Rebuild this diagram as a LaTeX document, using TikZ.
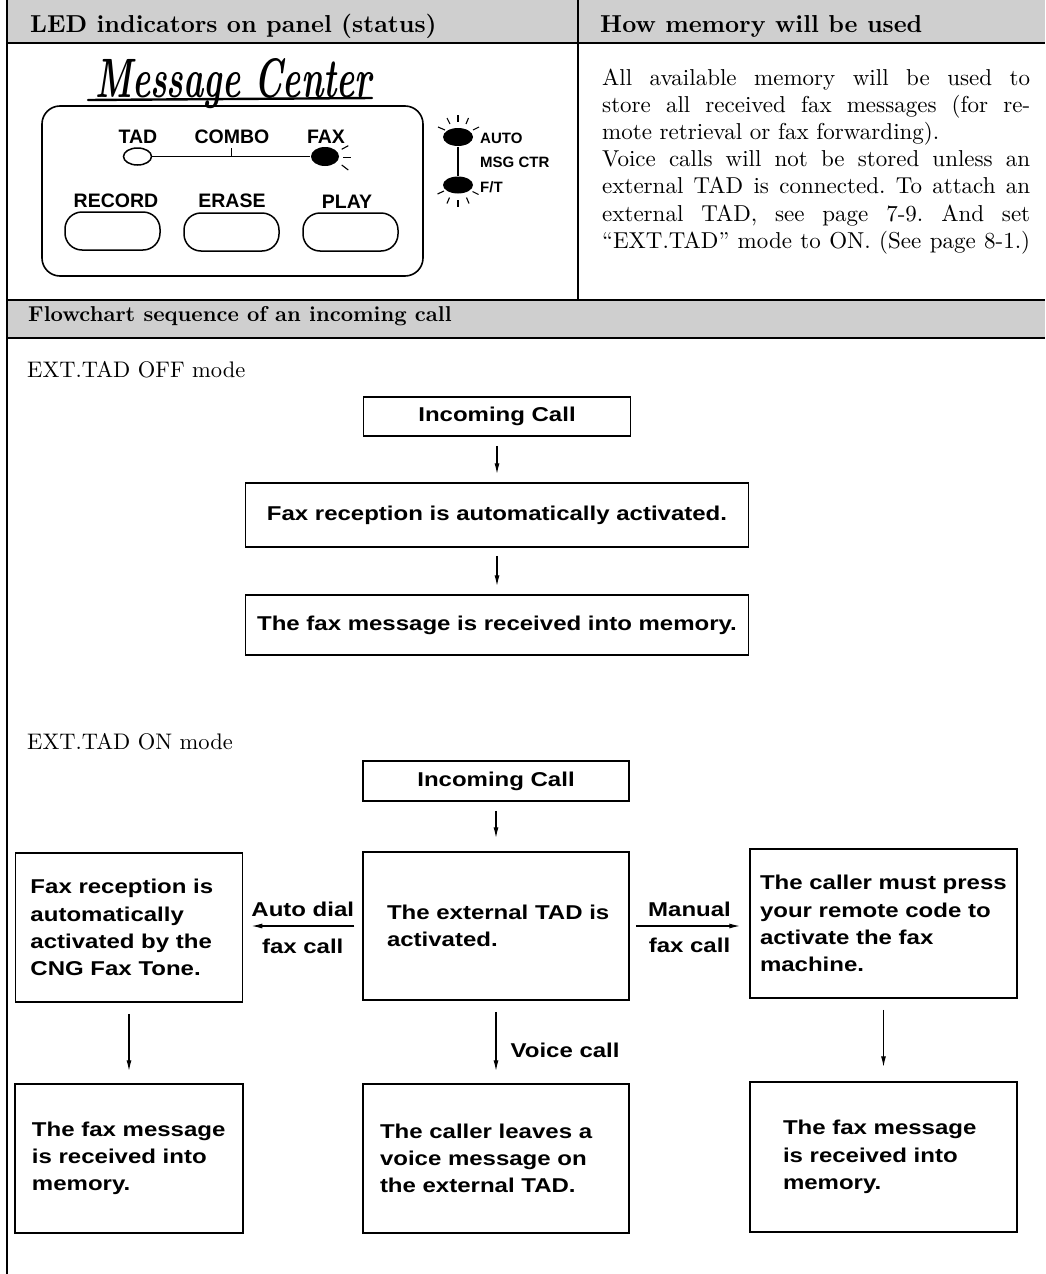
\documentclass[tikz,border=0pt]{standalone}
\usepackage{fontspec}
\usepackage{graphicx}
\usetikzlibrary{shapes.geometric,arrows.meta,calc}
\setmainfont{lmroman10}[Extension=.otf, UprightFont=*-regular, BoldFont=*-bold, ItalicFont=*-italic, BoldItalicFont=*-bolditalic]
\newfontfamily\hvflow[FakeStretch=1.2]{Liberation Sans}
\newfontfamily\hvpanel{Liberation Sans}
\begin{document}
\frenchspacing
\begin{tikzpicture}[x=1pt,y=-1pt,
  hdr/.style={anchor=base west, inner sep=0pt, font=\fontsize{24.5}{27}\selectfont\bfseries},
  modelbl/.style={anchor=base west, inner sep=0pt, font=\fontsize{22.5}{27}\selectfont},
  bar/.style={fill=black!19, draw=none},
  rule/.style={line width=1.3pt},
  plbl/.style={anchor=base, inner sep=0pt, font=\hvpanel\bfseries\fontsize{19.5}{22}\selectfont},
  slbl/.style={anchor=base west, inner sep=0pt, font=\hvpanel\bfseries\fontsize{15}{18}\selectfont},
  led/.style={ellipse, inner sep=0pt, line width=1.5pt},
  btn/.style={draw, line width=1.5pt, rounded corners=17pt, minimum width=95pt, minimum height=38pt, inner sep=0pt},
  ray/.style={line width=1.1pt},
  fbox/.style={draw, line width=1.5pt, inner sep=0pt, font=\hvflow\bfseries\fontsize{20}{27.3}\selectfont},
  tbox/.style={fbox, align=left},
  arr/.style={line width=1.3pt, -{Latex[length=11pt,width=5pt]}},
  lbl/.style={inner sep=0pt, font=\hvflow\bfseries\fontsize{20}{24}\selectfont},
]
\useasboundingbox (0,0) rectangle (1045,1274);
\fill[white] (0,0) rectangle (1045,1274);

% ---- header bars and rules ----
\fill[bar] (7,0) rectangle (1045,43);
\fill[bar] (7,300) rectangle (1045,338);
\draw[rule] (7,43) -- (1045,43);
\draw[rule] (7,300) -- (1045,300);
\draw[rule] (7,338) -- (1045,338);
\draw[rule] (7,0) -- (7,1274);
\draw[rule] (578,0) -- (578,300);

\node[hdr] (h1) at (30,32) {LED indicators on panel (status)};
\node[hdr] (h2) at (600,32) {How memory will be used};
\node[hdr, font=\fontsize{21.5}{27}\selectfont\bfseries] (h3) at (28,321) {Flowchart sequence of an incoming call};

% ---- memory text ----
\node[anchor=base west, inner sep=0pt, font=\fontsize{23}{27.2}\selectfont] (memtxt) at (602,85)
 {\parbox[t]{428pt}{%
  \makebox[428pt][s]{All available memory will be used to}\\
  \makebox[428pt][s]{store all received fax messages (for re-}\\
  \makebox[428pt][l]{mote retrieval or fax forwarding).}\\
  \makebox[428pt][s]{Voice calls will not be stored unless an}\\
  \makebox[428pt][s]{external TAD is connected. To attach an}\\
  \makebox[428pt][s]{external TAD, see page 7-9. And set}\\
  \makebox[428pt][s]{“EXT.TAD” mode to ON. (See page 8-1.)}}};

% ---- Message Center panel ----
\node[anchor=base west, inner sep=0pt] (mc) at (95,97)
  {\resizebox{277pt}{39pt}{\fontsize{40}{40}\selectfont\bfseries\itshape Message Center}};
\draw[line width=2.4pt, line cap=round] (88,100) -- (372,98);
\node[draw, line width=1.6pt, rounded corners=18pt, minimum width=381pt, minimum height=170pt, inner sep=0pt] (panel) at (232.5,191) {};

\node[plbl] (ltad) at (138,143) {TAD};
\node[plbl] (lcombo) at (232,143) {COMBO};
\node[plbl] (lfax) at (326,143) {FAX};
\node[led, draw, minimum width=28pt, minimum height=17pt] (tadled) at (137.5,156.5) {};
\node[led, fill, minimum width=28pt, minimum height=19pt] (faxled) at (325,156.5) {};
\draw[line width=1.1pt] (tadled) -- (faxled);
\draw[line width=1.1pt] ($(tadled)!0.5!(faxled)$) -- ++(0,-8.5);
\draw[ray] (341.7,149.3) -- (348.3,145.7);
\draw[ray] (343.3,157.7) -- (350.7,157.7);
\draw[ray] (341.7,165) -- (348.3,170);

\node[plbl] (lrec) at (116,207) {RECORD};
\node[plbl] (lera) at (232,207) {ERASE};
\node[plbl] (lplay) at (347,208) {PLAY};
\node[btn] (brec) at (112.5,231) {};
\node[btn] (bera) at (231.5,232) {};
\node[btn] (bplay) at (350.5,232) {};

% ---- AUTO / F/T ----
\node[led, fill, minimum width=30pt, minimum height=18pt] (autoled) at (458,137) {};
\node[led, fill, minimum width=30pt, minimum height=17pt] (ftled) at (458,185) {};
\node[slbl] (lauto) at (480,143) {AUTO};
\node[slbl] (lmsg) at (480,167) {MSG CTR};
\node[slbl] (lft) at (480,192) {F/T};
\draw[line width=1.1pt] (autoled) -- (ftled);
\draw[line width=1.1pt, shorten >=2pt] ($(autoled)!0.5!(ftled)$) -- ($(autoled)!0.5!(ftled)$ -| lmsg.west);
\draw[ray] (438,127) -- (445,130);
\draw[ray] (447,118) -- (450,124);
\draw[ray] (458,115) -- (458,121.5);
\draw[ray] (468.5,118) -- (466,124);
\draw[ray] (479,127) -- (473,130);
\draw[ray] (437.5,194) -- (444,191);
\draw[ray] (447,203.5) -- (449.5,197.5);
\draw[ray] (458,206.5) -- (458,200);
\draw[ray] (469,203.5) -- (466.5,197.5);
\draw[ray] (478.5,194.5) -- (472.5,191.5);

% ---- EXT.TAD OFF mode ----
\node[modelbl] (offlbl) at (27,377) {EXT.TAD OFF mode};
\node[fbox, minimum width=267pt, minimum height=39pt] (in1) at (497,416.5) {Incoming Call};
\node[fbox, minimum width=503pt, minimum height=64pt] (fr) at (497,515) {Fax reception is automatically activated.};
\node[fbox, minimum width=503pt, minimum height=60pt] (fm) at (497,625) {The fax message is received into memory.};
\draw[arr, shorten <=9pt, shorten >=8pt] (in1) -- (fr);
\draw[arr, shorten <=8pt, shorten >=8pt] (fr) -- (fm);

% ---- EXT.TAD ON mode ----
\node[modelbl] (onlbl) at (27,749) {EXT.TAD ON mode};
\node[fbox, minimum width=266pt, minimum height=40pt] (in2) at (496,781) {Incoming Call};
\node[tbox, text width=227pt, minimum height=149pt] (L1) at (129,927.5)
  {\leftskip=15pt\noindent Fax reception is\\automatically\\activated by the\\CNG Fax Tone.\par};
\node[tbox, text width=266pt, minimum height=148pt] (C1) at (496,926)
  {\leftskip=24pt\noindent The external TAD is\\activated.\par};
\node[tbox, text width=267pt, minimum height=149pt] (R1) at (883.5,923.5)
  {\leftskip=10pt\noindent The caller must press\\your remote code to\\activate the fax\\machine.\par};
\node[tbox, text width=228pt, minimum height=149pt] (L2) at (129,1158.5)
  {\leftskip=17pt\noindent The fax message\\is received into\\memory.\par};
\node[tbox, text width=266pt, minimum height=149pt] (C2) at (496,1158.5)
  {\leftskip=17pt\noindent The caller leaves a\\voice message on\\the external TAD.\par};
\node[tbox, text width=267pt, minimum height=150pt] (R2) at (883.5,1157)
  {\leftskip=33pt\noindent The fax message\\is received into\\memory.\par};

\draw[arr, shorten <=9pt, shorten >=13pt] (in2) -- (C1);
\draw[arr, shorten <=8pt, shorten >=8pt] (C1.west) -- (C1.west -| L1.east)
  node[midway, lbl, above=9pt] (ad) {Auto dial}
  node[midway, lbl, below=12pt] (fc1) {fax call};
\draw[arr, shorten <=6pt, shorten >=9pt] (C1.east) -- (C1.east -| R1.west)
  node[midway, lbl, above=9pt] (man) {Manual}
  node[midway, lbl, below=11pt] (fc2) {fax call};
\draw[arr, shorten <=11pt, shorten >=12pt] (L1) -- (L2);
\draw[arr, shorten <=11pt, shorten >=12pt] (C1) -- (C2)
  node[pos=0.6, lbl, right=14pt] (vc) {Voice call};
\draw[arr, shorten <=11pt, shorten >=14pt] (R1) -- (R2);
\end{tikzpicture}
\end{document}
